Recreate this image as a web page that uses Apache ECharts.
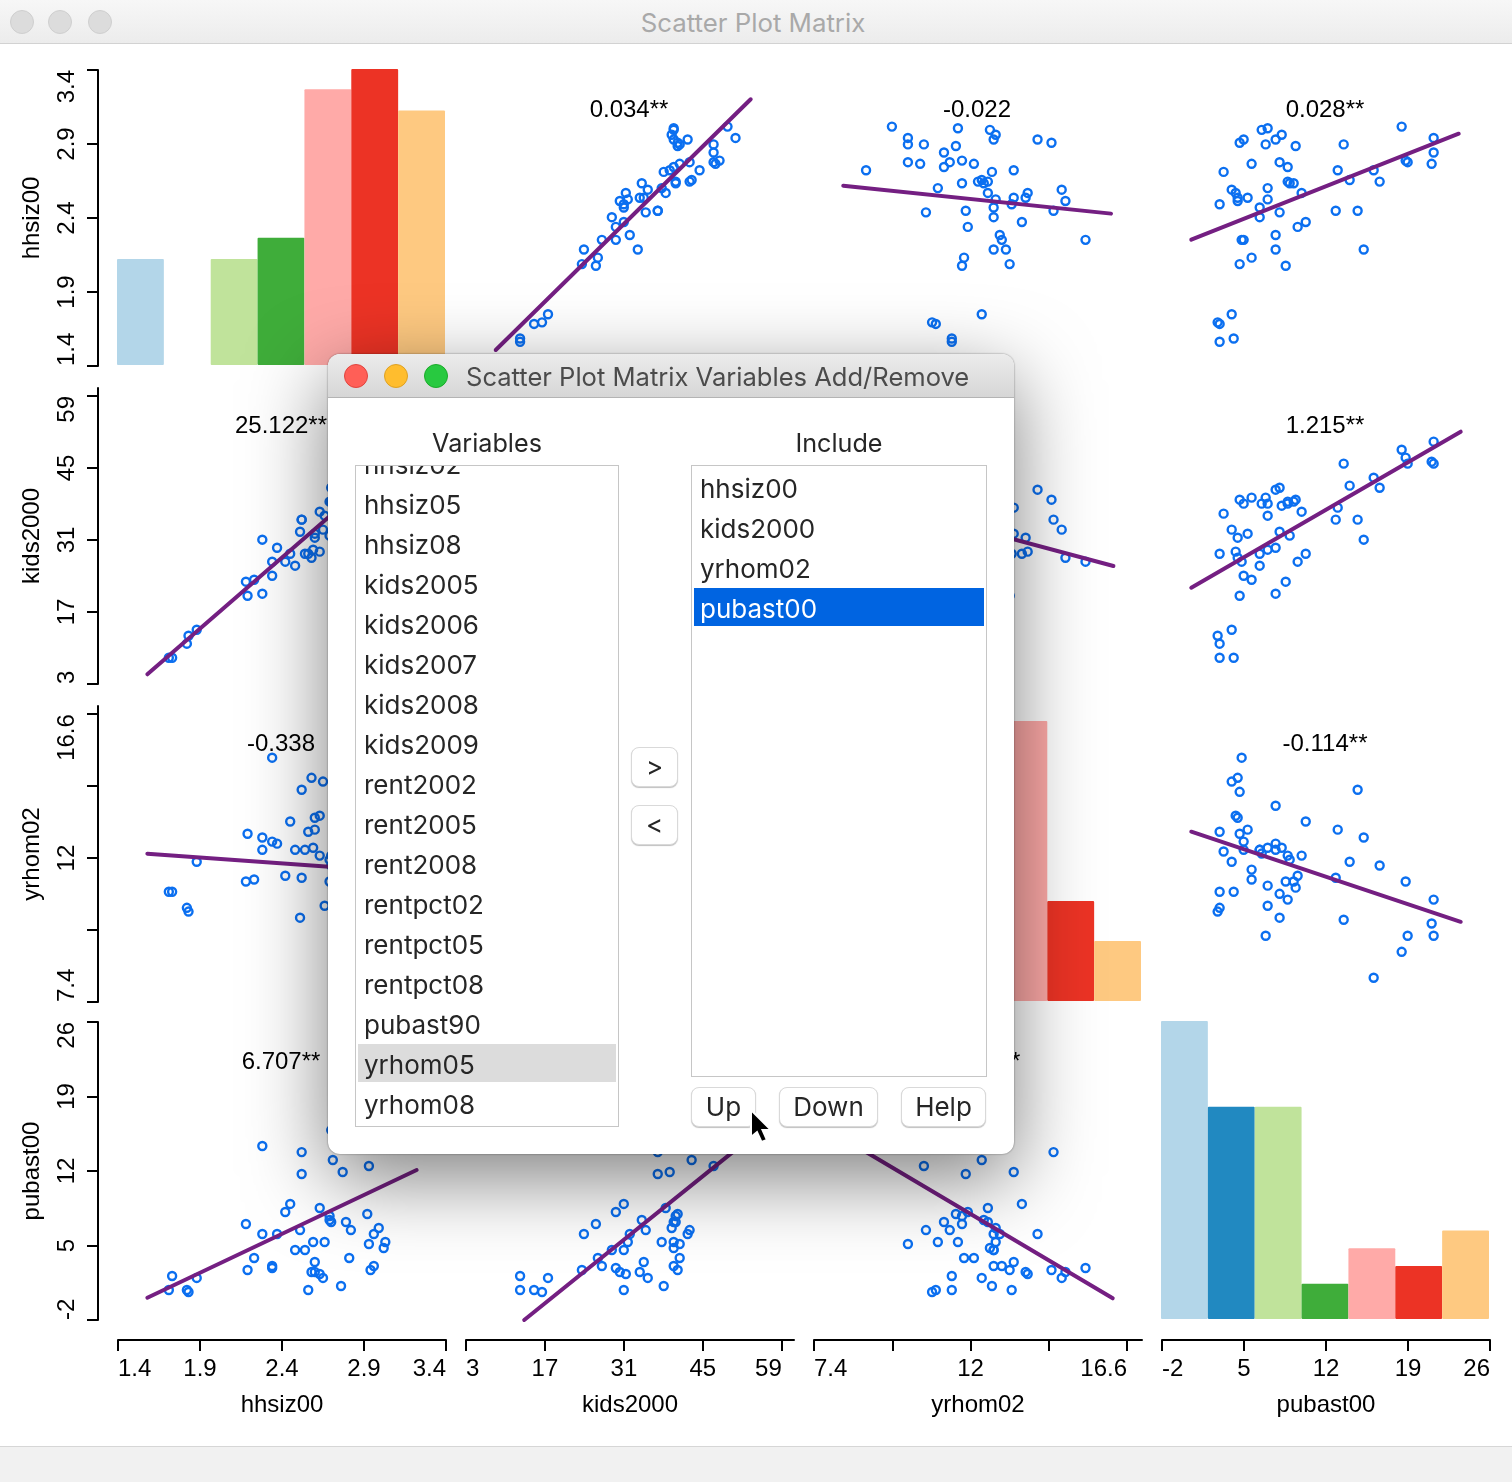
<!DOCTYPE html>
<html>
<head>
<meta charset="utf-8">
<title>Scatter Plot Matrix</title>
<script src="https://cdn.jsdelivr.net/npm/echarts@6/dist/echarts.min.js"></script>
<style>
html, body { margin: 0; padding: 0; background: #fff; }
#page { position: relative; width: 1512px; height: 1482px; overflow: hidden; font-family: Inter, Roboto, sans-serif; }
#main { position: absolute; left: 0; top: 0; width: 1512px; height: 1482px; }
.titlebar { position: absolute; left: 0; top: 0; width: 1512px; height: 43px; background: linear-gradient(#f7f7f7, #ececec); border-bottom: 1px solid #d2d2d2; }
.titlebar span { position: absolute; left: 0; width: 1506px; top: 7px; text-align: center; font-size: 25.8px; color: #a9a9a9; }
.dot { position: absolute; width: 24px; height: 24px; border-radius: 50%; box-sizing: border-box; }
.statusbar { position: absolute; left: 0; top: 1446px; width: 1512px; height: 36px; background: #f1f1f1; border-top: 1px solid #d6d6d6; box-sizing: border-box; }
#dialog { position: absolute; left: 328px; top: 354px; width: 686px; height: 800px; background: #fff; border-radius: 12px; box-shadow: 0 24px 80px rgba(0,0,0,.5), 0 0 2px rgba(0,0,0,.5); font-size: 26px; color: #262626; }
#dialog .head { position: absolute; left: 0; top: 0; width: 686px; height: 44px; background: linear-gradient(#ececec, #d6d6d6); border-bottom: 1px solid #b4b4b4; box-sizing: border-box; border-radius: 12px 12px 0 0; }
#dialog .head span { position: absolute; left: 138px; top: 7px; color: #4b4b4b; white-space: nowrap; font-size: 25.55px; }
.cap { position: absolute; top: 74px; text-align: center; font-size: 25.2px; }
.list { position: absolute; border: 1px solid #c6c6c6; box-sizing: border-box; overflow: hidden; background: #fff; }
.row { position: absolute; left: 2px; height: 38px; line-height: 42px; padding-left: 6px; white-space: nowrap; }
.btn { position: absolute; height: 40px; line-height: 38px; box-sizing: border-box; text-align: center; background: #fff; border: 1px solid #d9d9d9; border-radius: 8px; box-shadow: 0 1px 1px rgba(0,0,0,.25); }
#cursor { position: absolute; left: 749px; top: 1108px; }
</style>
</head>
<body>
<div id="page">
<div id="main"></div>
<div class="titlebar">
  <div class="dot" style="left:10px;top:10px;background:#dcdcdc;border:1px solid #cfcfcf"></div>
  <div class="dot" style="left:48px;top:10px;background:#dcdcdc;border:1px solid #cfcfcf"></div>
  <div class="dot" style="left:88px;top:10px;background:#dcdcdc;border:1px solid #cfcfcf"></div>
  <span>Scatter Plot Matrix</span>
</div>
<div class="statusbar"></div>
<div id="dialog"></div>
<svg id="cursor" width="30" height="40" viewBox="0 0 30 40">
  <path d="M2 2 L2 29 L8 24 L12.5 34 L18 32 L13.5 22 L22 22 Z" fill="#000" stroke="#fff" stroke-width="2"/>
</svg>
</div>
<script>
// variables in the matrix, in order
const varNames = ['hhsiz00', 'kids2000', 'yrhom02', 'pubast00'];

const hhsiz00 = [1.83,2.56,1.82,1.71,2.76,2.65,1.88,1.73,2.63,2.60,2.58,2.94,2.19,2.34,2.96,2.34,2.60,2.81,2.23,2.54,2.48,3.02,2.93,3.03,2.66,2.59,2.96,2.37,2.28,2.82,2.51,2.99,2.18,2.79,2.70,2.69,2.69,2.92,2.42,2.63,2.45,2.52,2.77,2.93,2.71,2.52,2.28,2.77,2.70,3.04,2.83,2.82,2.81,2.97,2.88];
const kids2000 = [16.48,30.98,15.07,12.59,38.06,35.23,17.54,12.59,31.34,33.81,30.27,40.53,23.55,29.57,39.83,27.09,34.52,40.89,26.38,30.98,28.86,39.83,40.89,39.83,37.70,31.69,42.30,32.04,23.91,42.65,34.87,39.47,26.03,39.83,40.18,34.17,40.18,40.53,29.57,38.41,30.98,37.00,39.12,46.90,43.01,37.00,33.46,44.42,42.65,49.37,47.96,46.90,47.25,50.79,46.90];
const yrhom02 = [10.87,13.21,10.98,11.45,12.63,14.68,12.33,11.45,13.68,13.62,14.79,14.38,13.15,15.38,12.68,12.92,13.27,12.10,11.81,12.68,12.68,12.57,10.16,11.63,11.04,12.74,13.97,12.86,12.68,11.39,10.69,12.74,11.75,11.22,12.51,12.39,11.75,11.57,11.92,12.51,13.51,11.86,13.27,10.63,12.33,14.44,13.04,8.93,12.22,9.69,11.75,10.16,10.52,10.16,11.22];
const pubast00 = [2.75,2.92,2.92,2.92,3.26,3.95,3.95,4.12,4.29,4.46,4.46,4.63,4.63,4.80,4.97,4.97,5.31,5.65,5.65,6.34,6.34,6.51,6.85,7.02,7.02,7.02,7.70,7.70,7.70,8.04,8.04,8.22,8.56,8.73,8.73,8.90,9.24,9.41,9.58,9.92,10.27,12.83,13.00,13.51,14.02,14.70,15.22,16.07,16.58,18.46,18.80,18.97,21.02,21.19,21.19];
const values = [hhsiz00, kids2000, yrhom02, pubast00];

// histogram counts on the diagonal, and the count at the top of each cell
const histHhsiz = [5, 0, 5, 6, 13, 14, 12];
const histKids = [5, 0, 6, 12, 14, 11, 7];
const histYrhom = [2, 6, 10, 15, 14, 5, 3];
const histPubast = [17, 12, 12, 2, 4, 3, 5];
const histCounts = [histHhsiz, histKids, histYrhom, histPubast];
const histTops = [13.95, 14, 14.8, 16.85];
const binColors = ['#b3d6e9', '#2189c1', '#c0e39b', '#3fad3a', '#ffaaa8', '#ec3325', '#fec981'];

// axis ranges and ticks as printed on the window
const xRanges = [[1.4, 3.4], [3, 61.16], [7.4, 17.04], [-2, 26]];
const rowRanges = [[1.4, 3.4], [3, 60.56], [7.4, 16.86], [-2, 26]];
const tickValues = [[1.4, 1.9, 2.4, 2.9, 3.4], [3, 17, 31, 45, 59], [7.4, 9.7, 12, 14.3, 16.6], [-2, 5, 12, 19, 26]];
const labelValues = [[1.4, 1.9, 2.4, 2.9, 3.4], [3, 17, 31, 45, 59], [7.4, 12, 16.6], [-2, 5, 12, 19, 26]];
// GeoDa plots the y values on a slightly wider range than the printed y axis says
const yDataRanges = [[1.56, 3.39], [7.94, 60.28], [8.219, 16.895], [0.358, 25.81]];

// regression slopes printed in each panel
const slopeLabels = [
    [null, '0.034**', '-0.022', '0.028**'],
    ['25.122**', null, '-1.60**', '1.215**'],
    ['-0.338', '-0.052', null, '-0.114**'],
    ['6.707**', '0.384**', '-1.702**', null]
];

// regression line ends [x, y] in data units
const fitLines = [
    [null, [[8.27, 1.659], [53.48, 3.209]], [[8.26, 2.675], [16.13, 2.502]], [[0.5, 2.341], [23.33, 2.996]]],
    [[[1.579, 9.66], [3.22, 50.9]], null, [[8.26, 41.6], [16.2, 28.81]], [[0.5, 24.97], [23.5, 52.56]]],
    [[[1.579, 12.566], [3.22, 12.0]], [[8.27, 13.5], [53.48, 11.2]], null, [[0.5, 13.21], [23.5, 10.57]]],
    [[[1.579, 2.262], [3.221, 13.165]], [[13.32, 0.358], [53.48, 15.93]], [[8.26, 15.86], [16.18, 2.211]], null]
];

// dialog lists
const variableItems = ['hhsiz02', 'hhsiz05', 'hhsiz08', 'kids2005', 'kids2006', 'kids2007', 'kids2008', 'kids2009', 'rent2002', 'rent2005', 'rent2008', 'rentpct02', 'rentpct05', 'rentpct08', 'pubast90', 'yrhom05', 'yrhom08'];
const includeItems = ['hhsiz00', 'kids2000', 'yrhom02', 'pubast00'];

const colLeft = [118, 466, 814, 1162];
const rowTop = [70, 388, 706, 1022];
const rowHeight = [296, 296, 296, 298];
const titleDrop = [40, 38, 38, 40];
const cellWidth = 328;
const textFont = { fontFamily: 'Liberation Sans', fontSize: 24, color: '#000' };

const grids = [], xAxes = [], yAxes = [], series = [], titles = [];

for (let r = 0; r < 4; r++) {
    for (let c = 0; c < 4; c++) {
        const g = grids.length;
        grids.push({ left: colLeft[c], top: rowTop[r], width: cellWidth, height: rowHeight[r] });
        xAxes.push({
            type: 'value', gridIndex: g, min: xRanges[c][0], max: xRanges[c][1],
            show: r === 3, position: 'bottom', offset: 20,
            name: varNames[c], nameLocation: 'middle', nameGap: 53,
            nameTextStyle: textFont,
            splitLine: { show: false },
            axisLine: { show: true, onZero: false, lineStyle: { color: '#000', width: 2 } },
            axisTick: { show: true, length: 11, customValues: tickValues[c], lineStyle: { color: '#000', width: 2 } },
            axisLabel: {
                ...textFont, margin: 17, showMinLabel: true, showMaxLabel: true, hideOverlap: false,
                customValues: labelValues[c], formatter: v => String(v),
                alignMinLabel: 'left', alignMaxLabel: 'right'
            }
        });
        const dataY = yAxes.length;
        yAxes.push({ type: 'value', gridIndex: g, min: yDataRanges[r][0], max: yDataRanges[r][1], show: false });
        if (c === 0) {
            // printed axis only, the points use the hidden one above
            yAxes.push({
                type: 'value', gridIndex: g, min: rowRanges[r][0], max: rowRanges[r][1],
                position: 'left', offset: 20,
                name: varNames[r], nameLocation: 'middle', nameRotate: 90, nameGap: 54,
                nameTextStyle: textFont,
                splitLine: { show: false },
                axisLine: { show: true, onZero: false, lineStyle: { color: '#000', width: 2 } },
                axisTick: { show: true, length: 11, customValues: tickValues[r], lineStyle: { color: '#000', width: 2 } },
                axisLabel: {
                    ...textFont, rotate: 90, margin: 19, hideOverlap: false,
                    customValues: labelValues[r], formatter: v => String(v),
                    alignMinLabel: 'left', alignMaxLabel: 'right'
                }
            });
        }
        if (r !== c) {
            series.push({
                type: 'scatter', xAxisIndex: g, yAxisIndex: dataY, silent: true,
                symbol: 'circle', symbolSize: 8,
                itemStyle: { color: 'rgba(0,0,0,0)', borderColor: '#0b6ff0', borderWidth: 2.4, opacity: 1 },
                data: values[c].map((v, i) => [v, values[r][i]])
            });
            series.push({
                type: 'line', xAxisIndex: g, yAxisIndex: dataY, silent: true, clip: false,
                showSymbol: false, symbol: 'none',
                lineStyle: { color: '#741f82', width: 4, cap: 'round' },
                data: fitLines[r][c]
            });
            titles.push({
                text: slopeLabels[r][c], left: colLeft[c] + cellWidth / 2 - 1, top: rowTop[r] + titleDrop[r], padding: 0,
                textAlign: 'center', textVerticalAlign: 'middle',
                textStyle: { ...textFont, fontWeight: 'normal' }
            });
        }
    }
}

// histograms sit on their own grids, one pixel up and left of the matrix cell
histCounts.forEach((counts, d) => {
    const g = grids.length;
    grids.push({ left: colLeft[d] - 1, top: rowTop[d] - 1, width: cellWidth, height: rowHeight[d] });
    xAxes.push({ type: 'category', gridIndex: g, show: false, data: counts.map((_, i) => i) });
    const y = yAxes.length;
    yAxes.push({ type: 'value', gridIndex: g, show: false, min: 0, max: histTops[d] });
    series.push({
        type: 'bar', xAxisIndex: g, yAxisIndex: y, silent: true, barWidth: '100%', clip: true,
        data: counts.map((n, i) => ({ value: n, itemStyle: { color: binColors[i], borderRadius: 1 } }))
    });
});

const chart = echarts.init(document.getElementById('main'));
chart.setOption({
    animation: false,
    backgroundColor: '#fff',
    title: titles,
    grid: grids,
    xAxis: xAxes,
    yAxis: yAxes,
    series: series
});

// the add/remove dialog over the matrix
function buildDialog() {
    const d = document.getElementById('dialog');
    let html = '<div class="head">'
        + '<div class="dot" style="left:16px;top:10px;background:#ff5f57;border:1px solid #e0443e"></div>'
        + '<div class="dot" style="left:56px;top:10px;background:#ffbd2e;border:1px solid #dea123"></div>'
        + '<div class="dot" style="left:96px;top:10px;background:#28c940;border:1px solid #1aab29"></div>'
        + '<span>Scatter Plot Matrix Variables Add/Remove</span></div>';
    html += '<div class="cap" style="left:27px;width:264px">Variables</div>';
    html += '<div class="cap" style="left:363px;width:296px">Include</div>';
    html += '<div class="list" style="left:27px;top:111px;width:264px;height:662px">';
    variableItems.forEach((name, i) => {
        const sel = name === 'yrhom05';
        html += `<div class="row" style="top:${-22 + i * 40}px;width:252px;${sel ? 'background:#dcdcdc' : ''}">${name}</div>`;
    });
    html += '</div>';
    html += '<div class="list" style="left:363px;top:111px;width:296px;height:612px">';
    includeItems.forEach((name, i) => {
        const sel = name === 'pubast00';
        html += `<div class="row" style="top:${2 + i * 40}px;width:284px;${sel ? 'background:#0064e1;color:#fff' : ''}">${name}</div>`;
    });
    html += '</div>';
    const buttons = [['>', 303, 393, 47], ['<', 303, 451, 47], ['Up', 363, 733, 65], ['Down', 451, 733, 99], ['Help', 573, 733, 85]];
    buttons.forEach(b => {
        const t = b[0].replace('<', '&lt;').replace('>', '&gt;');
        html += `<div class="btn" style="left:${b[1]}px;top:${b[2]}px;width:${b[3]}px">${t}</div>`;
    });
    d.innerHTML = html;
}
buildDialog();
</script>
</body>
</html>
